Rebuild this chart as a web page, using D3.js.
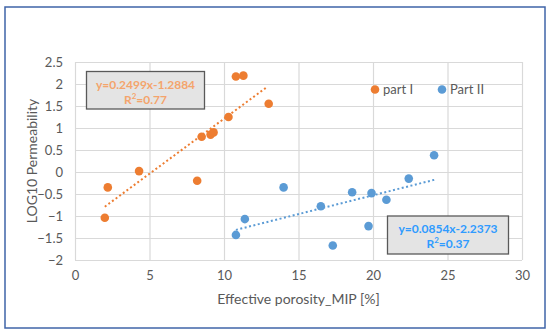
<!DOCTYPE html>
<html>
<head>
<meta charset="utf-8">
<script src="https://cdn.jsdelivr.net/npm/d3@7"></script>
<style>
  body { margin: 0; background: #fff; }
  svg text { font-family: Lato, "Open Sans", sans-serif; }
</style>
</head>
<body>
<div id="chart"></div>
<script>
// porosity (%) / log10 permeability
const partIX = [10.8, 11.3, 13.0, 10.3, 8.5, 9.1, 9.3, 4.3, 2.2, 2.0, 8.2];
const partIY = [2.17, 2.19, 1.55, 1.25, 0.80, 0.85, 0.90, 0.02, -0.35, -1.04, -0.20];
const partIIX = [10.8, 11.4, 24.1, 14.0, 16.5, 18.6, 19.9, 20.9, 22.4, 19.7, 17.3];
const partIIY = [-1.43, -1.07, 0.38, -0.35, -0.78, -0.46, -0.48, -0.63, -0.15, -1.23, -1.67];

const fitI = { slope: 0.2499, icpt: -1.2884, from: 2.0, to: 12.9, label: 'y=0.2499x-1.2884', r2: '0.77' };
const fitII = { slope: 0.0854, icpt: -2.2373, from: 10.8, to: 24.2, label: 'y=0.0854x-2.2373', r2: '0.37' };

const xTicks = [0, 5, 10, 15, 20, 25, 30];
const yTicks = [-2, -1.5, -1, -0.5, 0, 0.5, 1, 1.5, 2, 2.5];

const orange = '#ED7D31';
const blue = '#5B9BD5';
const textGray = '#595959';

const width = 550, height = 334;
const margin = { top: 62, right: 28, bottom: 74, left: 75 };
const w = width - margin.left - margin.right;
const h = height - margin.top - margin.bottom;

const svg = d3.select('#chart')
  .append('svg')
  .attr('width', width)
  .attr('height', height);

// outer frame
svg.append('rect')
  .attr('x', 5).attr('y', 7)
  .attr('width', 540).attr('height', 321)
  .attr('fill', '#fff')
  .attr('stroke', '#3f64a8')
  .attr('stroke-width', 1.5);

const g = svg.append('g')
  .attr('transform', `translate(${margin.left},${margin.top})`);

const x = d3.scaleLinear().domain([0, 30]).range([0, w]);
const y = d3.scaleLinear().domain([-2, 2.5]).range([h, 0]);

// grid
g.append('g')
  .call(d3.axisLeft(y).tickValues(yTicks).tickSize(-w).tickFormat(() => ''))
  .call(a => a.select('.domain').remove())
  .selectAll('line')
  .attr('stroke', '#d9d9d9')
  .attr('stroke-width', 1.2);

g.append('g')
  .attr('transform', `translate(0,${h})`)
  .call(d3.axisBottom(x).tickValues(xTicks).tickSize(-h).tickFormat(() => ''))
  .call(a => a.select('.domain').remove())
  .selectAll('line')
  .attr('stroke', '#d9d9d9')
  .attr('stroke-width', 1.2);

// tick labels
const yAxis = g.append('g')
  .call(d3.axisLeft(y).tickValues(yTicks).tickSize(0).tickPadding(12).tickFormat(d3.format('')));
yAxis.select('.domain').remove();
yAxis.selectAll('text').attr('fill', textGray).attr('font-size', '13px');

const xAxis = g.append('g')
  .attr('transform', `translate(0,${h})`)
  .call(d3.axisBottom(x).tickValues(xTicks).tickSize(0).tickPadding(11));
xAxis.select('.domain').remove();
xAxis.selectAll('text').attr('fill', textGray).attr('font-size', '13px');

// axis titles
svg.append('text')
  .attr('transform', `translate(37,${margin.top + h / 2}) rotate(-90)`)
  .attr('text-anchor', 'middle')
  .attr('fill', textGray)
  .attr('font-size', '14px')
  .text('LOG10 Permeability');

svg.append('text')
  .attr('x', margin.left + w / 2)
  .attr('y', 304)
  .attr('text-anchor', 'middle')
  .attr('fill', textGray)
  .attr('font-size', '14px')
  .text('Effective porosity_MIP [%]');

// trendlines
const line = d3.line().x(d => x(d[0])).y(d => y(d[1]));
[[fitI, orange], [fitII, blue]].forEach(([f, c]) => {
  g.append('path')
    .datum([[f.from, f.slope * f.from + f.icpt], [f.to, f.slope * f.to + f.icpt]])
    .attr('d', line)
    .attr('fill', 'none')
    .attr('stroke', c)
    .attr('stroke-width', 2)
    .attr('stroke-dasharray', '2,2.5');
});

// points
const series = [
  { xs: partIX, ys: partIY, color: orange },
  { xs: partIIX, ys: partIIY, color: blue }
];
series.forEach(s => {
  g.selectAll(null)
    .data(s.xs.map((v, i) => [v, s.ys[i]]))
    .enter()
    .append('circle')
    .attr('cx', d => x(d[0]))
    .attr('cy', d => y(d[1]))
    .attr('r', 4.3)
    .attr('fill', s.color);
});

// equation boxes
function eqBox(bx, by, bw, bh, f, color) {
  svg.append('rect')
    .attr('x', bx).attr('y', by)
    .attr('width', bw).attr('height', bh)
    .attr('fill', '#e4e4e4')
    .attr('stroke', '#595959')
    .attr('stroke-width', 1.3);
  svg.append('text')
    .attr('x', bx + bw / 2).attr('y', by + 17)
    .attr('text-anchor', 'middle')
    .attr('fill', color)
    .attr('font-size', '12px')
    .attr('font-weight', 'bold')
    .text(f.label);
  const r = svg.append('text')
    .attr('x', bx + bw / 2).attr('y', by + 32)
    .attr('text-anchor', 'middle')
    .attr('fill', color)
    .attr('font-size', '12px')
    .attr('font-weight', 'bold');
  r.append('tspan').text('R');
  r.append('tspan').attr('font-size', '8px').attr('dy', -5).text('2');
  r.append('tspan').attr('dy', 5).text('=' + f.r2);
}
eqBox(86.5, 71.5, 118, 37.5, fitI, '#F4A46C');
eqBox(387.5, 216, 121, 38, fitII, '#2F9BFF');

// legend
const legend = [['part I', orange, 375], ['Part II', blue, 442]];
legend.forEach(([name, c, lx]) => {
  svg.append('circle').attr('cx', lx).attr('cy', 89.5).attr('r', 4.3).attr('fill', c);
  svg.append('text')
    .attr('x', lx + 8).attr('y', 94)
    .attr('fill', textGray)
    .attr('font-size', '13px')
    .text(name);
});
</script>
</body>
</html>
